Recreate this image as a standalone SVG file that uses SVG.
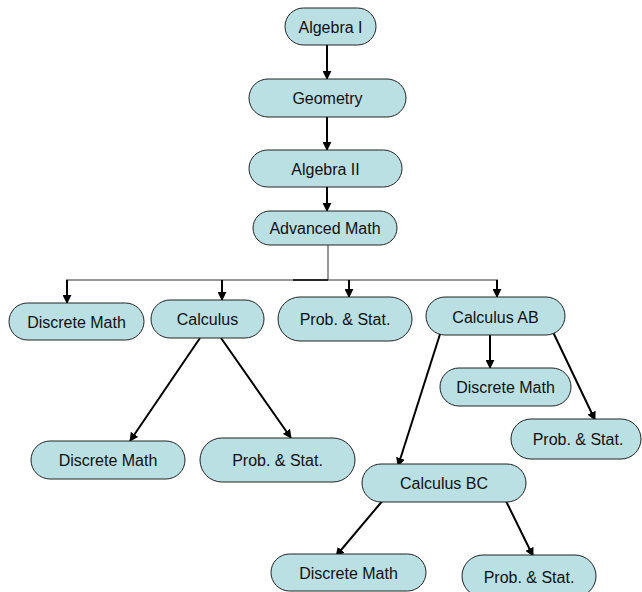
<svg xmlns="http://www.w3.org/2000/svg" width="642" height="592" viewBox="0 0 642 592">
<style>
.n rect{fill:#bae0e3;stroke:#222;stroke-width:1}
.n text{font-family:"Liberation Sans",Arial,sans-serif;font-size:16px;fill:#111;text-anchor:middle}
.c line,.c path{stroke:#000;stroke-width:2;fill:none}
.c .thin{stroke:#333;stroke-width:1}
</style>
<defs>
<marker id="ah" viewBox="0 0 10 10" refX="9" refY="5" markerWidth="4.5" markerHeight="4.5" orient="auto" markerUnits="strokeWidth">
<path d="M0,0 L10,5 L0,10 z" fill="#000"/>
</marker>
</defs>
<g class="c">
<line x1="327" y1="45" x2="327" y2="79" marker-end="url(#ah)"/>
<line x1="327" y1="117" x2="327" y2="150" marker-end="url(#ah)"/>
<line x1="327" y1="187" x2="327" y2="211" marker-end="url(#ah)"/>
<line class="thin" x1="328" y1="245" x2="328" y2="280"/>
<line class="thin" x1="66" y1="280" x2="498" y2="280"/>
<line x1="293" y1="280" x2="328" y2="280" style="stroke-width:1.6"/>
<line x1="67" y1="280" x2="67" y2="303" marker-end="url(#ah)"/>
<line x1="222" y1="280" x2="222" y2="300" marker-end="url(#ah)"/>
<line x1="349" y1="280" x2="349" y2="297" marker-end="url(#ah)"/>
<line x1="497" y1="280" x2="497" y2="297" marker-end="url(#ah)"/>
<line x1="200" y1="338" x2="130" y2="441" marker-end="url(#ah)"/>
<line x1="221" y1="338" x2="291" y2="438" marker-end="url(#ah)"/>
<line x1="490" y1="332" x2="490" y2="368" marker-end="url(#ah)"/>
<line x1="553" y1="332" x2="595" y2="420" marker-end="url(#ah)"/>
<line x1="441" y1="331" x2="398" y2="466" marker-end="url(#ah)"/>
<line x1="384" y1="499" x2="336" y2="556" marker-end="url(#ah)"/>
<line x1="505" y1="499" x2="533" y2="556" marker-end="url(#ah)"/>
</g>
<g id="algebra1" class="n"><rect x="285" y="8" width="91" height="37" rx="18.5"/><text x="330.5" y="33">Algebra I</text></g>
<g id="geometry" class="n"><rect x="249" y="79" width="157" height="38" rx="19"/><text x="327.5" y="104">Geometry</text></g>
<g id="algebra2" class="n"><rect x="249" y="150" width="153" height="37" rx="18.5"/><text x="325.5" y="174.5">Algebra II</text></g>
<g id="advmath" class="n"><rect x="253" y="211" width="144" height="34" rx="17"/><text x="325" y="234">Advanced Math</text></g>
<g id="discrete1" class="n"><rect x="9" y="303" width="135" height="37" rx="18.5"/><text x="76.5" y="327.5">Discrete Math</text></g>
<g id="calculus" class="n"><rect x="151" y="300" width="113" height="38" rx="19"/><text x="207.5" y="324.5">Calculus</text></g>
<g id="probstat1" class="n"><rect x="278" y="297" width="134" height="44" rx="22"/><text x="345" y="325">Prob. &amp; Stat.</text></g>
<g id="calcab" class="n"><rect x="426" y="297" width="139" height="38" rx="19"/><text x="495.5" y="322.5">Calculus AB</text></g>
<g id="discrete2" class="n"><rect x="440" y="368" width="131" height="38" rx="19"/><text x="505.5" y="393">Discrete Math</text></g>
<g id="probstat2" class="n"><rect x="511" y="419" width="130" height="40" rx="20"/><text x="578" y="445">Prob. &amp; Stat.</text></g>
<g id="discrete3" class="n"><rect x="31" y="441" width="154" height="38" rx="19"/><text x="108" y="466">Discrete Math</text></g>
<g id="probstat3" class="n"><rect x="200" y="438" width="155" height="44" rx="22"/><text x="277.5" y="466">Prob. &amp; Stat.</text></g>
<g id="calcbc" class="n"><rect x="362" y="464" width="164" height="38" rx="19"/><text x="444" y="488.5">Calculus BC</text></g>
<g id="discrete4" class="n"><rect x="271" y="554" width="155" height="37" rx="18.5"/><text x="348.5" y="578.5">Discrete Math</text></g>
<g id="probstat4" class="n"><rect x="462" y="555" width="134" height="42" rx="21"/><text x="529" y="582.5">Prob. &amp; Stat.</text></g>
</svg>
